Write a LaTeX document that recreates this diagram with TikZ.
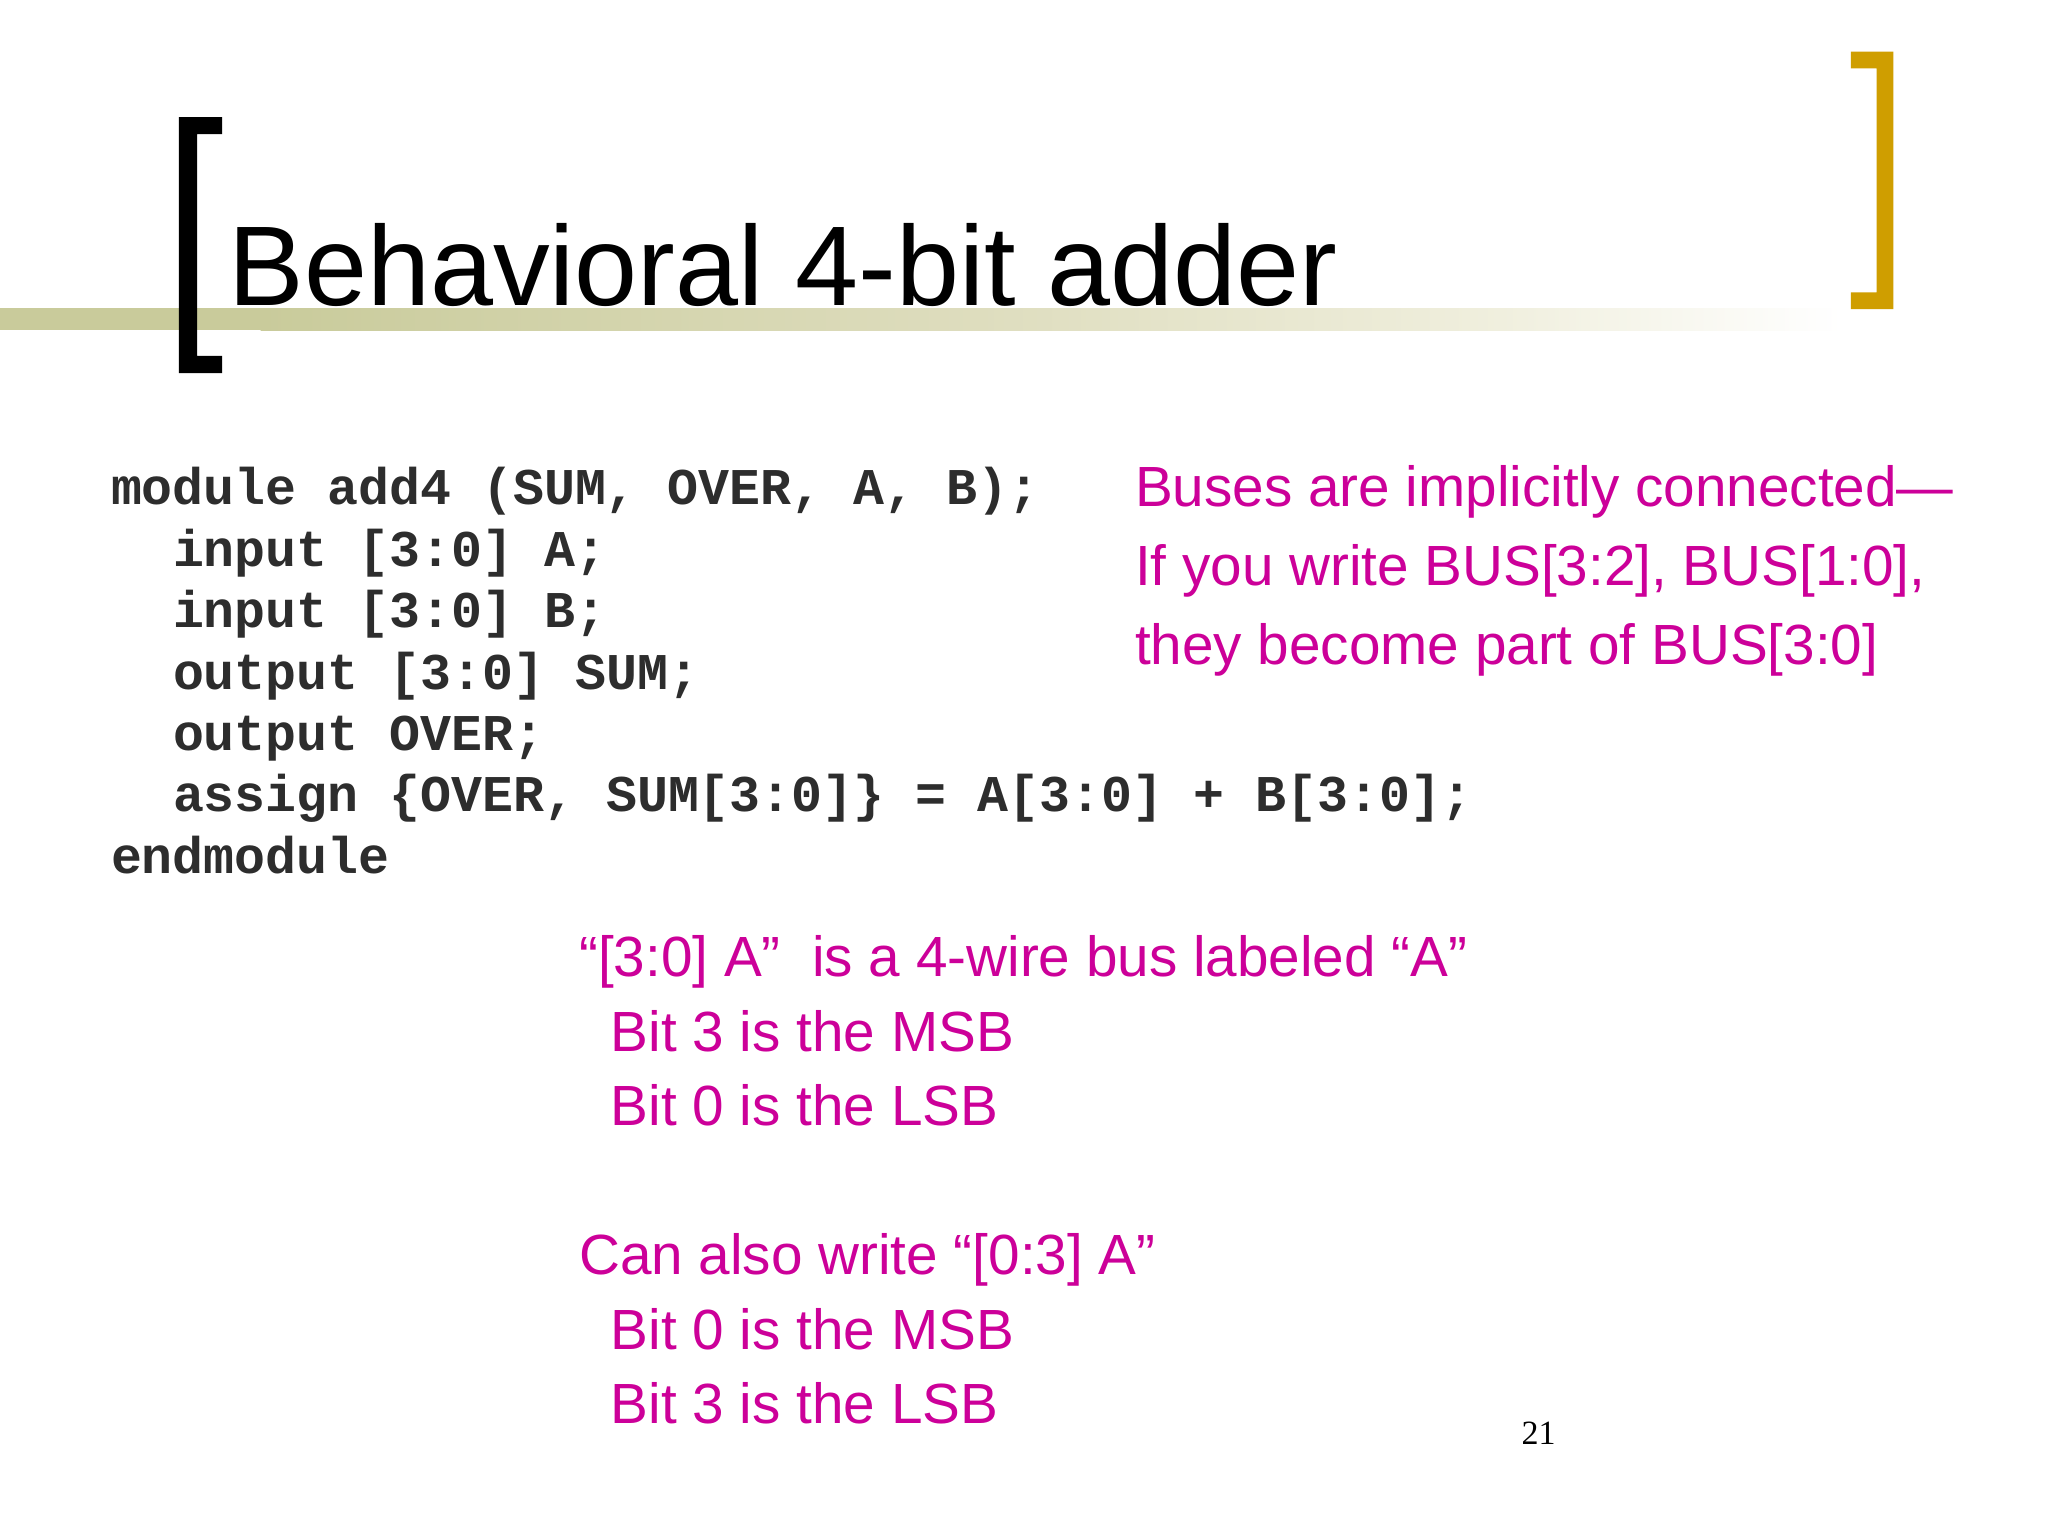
\documentclass[tikz,border=0pt]{standalone}
\usepackage{fontspec}
\setmainfont{Liberation Sans}
\setmonofont{Liberation Mono}
\newfontfamily\pagenumfont{Liberation Serif}
\definecolor{bandL}{RGB}{201,203,155}
\definecolor{bandM}{RGB}{222,221,190}
\definecolor{bandR}{RGB}{240,239,222}
\definecolor{gold}{RGB}{207,158,0}
\definecolor{codegray}{RGB}{45,45,45}
\definecolor{pinktext}{RGB}{204,0,153}
\tikzset{
  txt/.style={anchor=base west, inner sep=0pt, outer sep=0pt},
  titletxt/.style={txt, font=\fontsize{40}{48}\selectfont, text=black},
  codetxt/.style={txt, font=\fontsize{18.2}{21.8}\selectfont\ttfamily\bfseries, text=codegray},
  notetxt/.style={txt, font=\fontsize{20}{24}\selectfont, text=pinktext},
  pagetxt/.style={txt, font=\fontsize{12}{14}\selectfont\pagenumfont, text=black}
}
\begin{document}
\begin{tikzpicture}[x=0.016199cm, y=-0.016199cm]
\useasboundingbox (0,0) rectangle (1568,1176);
\fill[white] (0,0) rectangle (1568,1176);
% title band
\fill[bandL] (0,236) rectangle (200,253);
\shade[left color=bandL, right color=bandM, draw=none] (199.5,236) rectangle (750,253);
\shade[left color=bandM, right color=bandR, draw=none] (749.5,236) rectangle (1150,253);
\shade[left color=bandR, right color=white, draw=none] (1149.5,236) rectangle (1410,253);
% brackets
\fill[black] (137,89.6) -- (170,89.6) -- (170,102.6) -- (151,102.6) -- (151,272.5) -- (170,272.5) -- (170,285.6) -- (137,285.6) -- cycle;
\fill[gold] (1417,39.6) -- (1449.5,39.6) -- (1449.5,236.6) -- (1417,236.6) -- (1417,223.8) -- (1436.8,223.8) -- (1436.8,52.3) -- (1417,52.3) -- cycle;
% title
\node[titletxt] (title) at (175,234) {Behavioral 4-bit adder};
% code
\node[codetxt] (c1) at (85,386.6) {module add4 (SUM, OVER, A, B);};
\node[codetxt] (c2) at (132.5,433.6) {input [3:0] A;};
\node[codetxt] (c3) at (132.5,480.6) {input [3:0] B;};
\node[codetxt] (c4) at (132.5,527.6) {output [3:0] SUM;};
\node[codetxt] (c5) at (132.5,574.6) {output OVER;};
\node[codetxt] (c6) at (132.5,621.6) {assign \{OVER, SUM[3:0]\} = A[3:0] + B[3:0];};
\node[codetxt] (c7) at (85,668.6) {endmodule};
% right note
\node[notetxt] (n1) at (869,387.6) {Buses are implicitly connected—};
\node[notetxt] (n2) at (869,448.2) {If you write BUS[3:2], BUS[1:0],};
\node[notetxt] (n3) at (869,508.6) {they become part of BUS[3:0]};
% lower note
\node[notetxt] (m1) at (443.5,748) {“[3:0] A”~~is a 4-wire bus labeled “A”};
\node[notetxt] (m2) at (467.7,805) {Bit 3 is the MSB};
\node[notetxt] (m3) at (467.7,862) {Bit 0 is the LSB};
\node[notetxt] (m4) at (443.5,976) {Can also write “[0:3] A”};
\node[notetxt] (m5) at (467.7,1033) {Bit 0 is the MSB};
\node[notetxt] (m6) at (467.7,1090) {Bit 3 is the LSB};
% page number
\node[pagetxt] (pg) at (1165,1106.3) {21};
\end{tikzpicture}
\end{document}
